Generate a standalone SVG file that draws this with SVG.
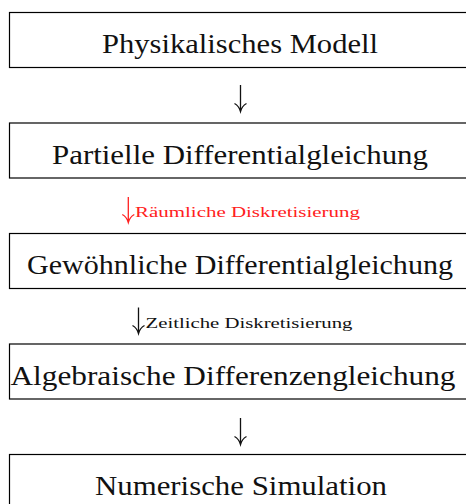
<svg xmlns="http://www.w3.org/2000/svg" width="466" height="504" viewBox="0 0 466 504" font-family="'Liberation Serif', 'DejaVu Serif', serif">
<style>
.box{fill:#fff;stroke:#000;stroke-width:1.2}
.t{font-family:'Liberation Serif','DejaVu Serif',serif;font-size:27px;fill:#111;text-anchor:middle}
.lbl{font-family:'Liberation Serif','DejaVu Serif',serif;font-size:14px;fill:#111}
.arr{fill:none;stroke:#111;stroke-width:1.3}
.red .arr{stroke:#ff2020}
.red .lbl{fill:#ff2020}
</style>
<rect width="466" height="504" fill="#fff"/>
<g id="n1"><rect class="box" x="9.5" y="12.5" width="470" height="55"/><text class="t" x="240" y="53" textLength="276" lengthAdjust="spacingAndGlyphs">Physikalisches Modell</text></g>
<g id="n2"><rect class="box" x="9.5" y="123" width="470" height="55"/><text class="t" x="240" y="163.5" textLength="376" lengthAdjust="spacingAndGlyphs">Partielle Differentialgleichung</text></g>
<g id="n3"><rect class="box" x="9.5" y="233.5" width="470" height="55"/><text class="t" x="240" y="274" textLength="426" lengthAdjust="spacingAndGlyphs">Gewöhnliche Differentialgleichung</text></g>
<g id="n4"><rect class="box" x="9.5" y="344" width="470" height="55"/><text class="t" x="233" y="384.5" textLength="445" lengthAdjust="spacingAndGlyphs">Algebraische Differenzengleichung</text></g>
<g id="n5"><rect class="box" x="9.5" y="454.5" width="470" height="60"/><text class="t" x="241" y="495" textLength="292" lengthAdjust="spacingAndGlyphs">Numerische Simulation</text></g>
<g id="connectors">
<g><path class="arr" d="M240.5,85V111M234.5,103.5Q239,106 240.5,111.5Q242,106 246.5,103.5"/></g>
<g class="red"><path class="arr" d="M128.3,197V222M122.3,214.5Q126.8,217 128.3,222.5Q129.8,217 134.3,214.5"/><text class="lbl" x="135" y="217" textLength="225" lengthAdjust="spacingAndGlyphs">Räumliche Diskretisierung</text></g>
<g><path class="arr" d="M138.5,307.5V333M132.5,325.5Q137,328 138.5,333.5Q140,328 144.5,325.5"/><text class="lbl" x="145.5" y="328" textLength="207" lengthAdjust="spacingAndGlyphs">Zeitliche Diskretisierung</text></g>
<g><path class="arr" d="M240.5,418V444M234.5,436.5Q239,439 240.5,444.5Q242,439 246.5,436.5"/></g>
</g>
</svg>
